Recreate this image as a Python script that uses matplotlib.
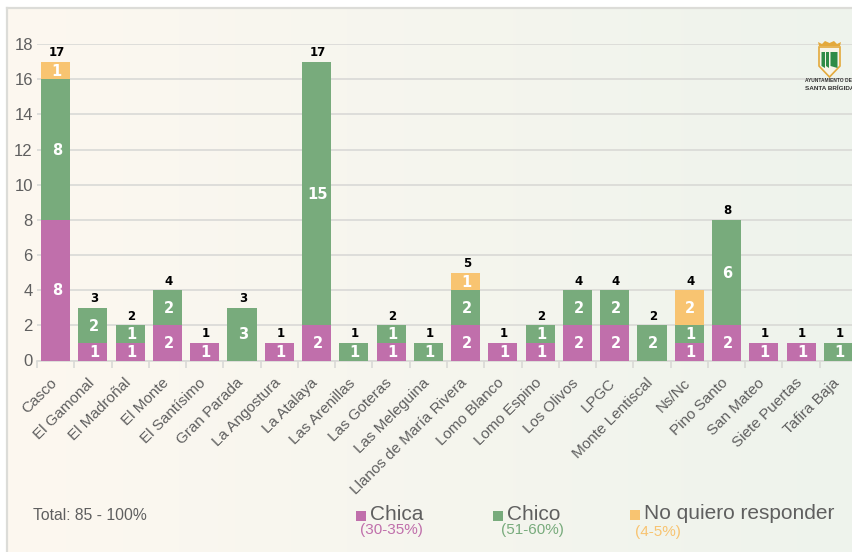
import numpy as np
import matplotlib
matplotlib.use('Agg')
import matplotlib.pyplot as plt
from matplotlib.patches import Polygon, Rectangle
from matplotlib.transforms import ScaledTranslation

plt.rcParams['font.family'] = ['Liberation Sans', 'DejaVu Sans']

# Data
barrios = ['Casco', 'El Gamonal', 'El Madroñal', 'El Monte', 'El Santísimo', 'Gran Parada',
           'La Angostura', 'La Atalaya', 'Las Arenillas', 'Las Goteras', 'Las Meleguina',
           'Llanos de María Rivera', 'Lomo Blanco', 'Lomo Espino', 'Los Olivos', 'LPGC',
           'Monte Lentiscal', 'Ns/Nc', 'Pino Santo', 'San Mateo', 'Siete Puertas', 'Tafira Baja']
chica = [8, 1, 1, 2, 1, 0, 1, 2, 0, 1, 0, 2, 1, 1, 2, 2, 0, 1, 2, 1, 1, 0]
chico = [8, 2, 1, 2, 0, 3, 0, 15, 1, 1, 1, 2, 0, 1, 2, 2, 2, 1, 6, 0, 0, 1]
no_resp = [1, 0, 0, 0, 0, 0, 0, 0, 0, 0, 0, 1, 0, 0, 0, 0, 0, 2, 0, 0, 0, 0]
yticks = [0, 2, 4, 6, 8, 10, 12, 14, 16, 18]

C_CHICA = '#c06fab'
C_CHICO = '#78ab7c'
C_NO = '#f8c471'
GREY = '#5f5f5f'
GRID = '#d9d9d6'

W, H = 853, 552
fig = plt.figure(figsize=(W / 100, H / 100), dpi=100, facecolor='white')

# Background panel with gradient
bg = fig.add_axes([7 / W, 0, 1 - 7 / W, 1 - 8 / H])
grad = np.linspace(0, 1, 256)[None, :, None]
left = np.array([253, 248, 240]) / 255
right = np.array([238, 243, 236]) / 255
bg.imshow(left + (right - left) * grad, aspect='auto', extent=[0, 1, 0, 1])
bg.set_xticks([])
bg.set_yticks([])
for s in ['right', 'bottom']:
    bg.spines[s].set_visible(False)
for s in ['left', 'top']:
    bg.spines[s].set_color('#dcdcd8')
    bg.spines[s].set_linewidth(1.6)

# Main chart
ax = fig.add_axes([37 / W, 1 - 360.5 / H, 820 / W, 316.5 / H])
ax.patch.set_alpha(0)
x = np.arange(len(barrios))
chica = np.array(chica)
chico = np.array(chico)
no_resp = np.array(no_resp)
total = chica + chico + no_resp
width = 0.78

ax.bar(x, chica, width, color=C_CHICA, zorder=3)
ax.bar(x, chico, width, bottom=chica, color=C_CHICO, zorder=3)
ax.bar(x, no_resp, width, bottom=chica + chico, color=C_NO, zorder=3)

for i in x:
    base = 0
    for v in (chica[i], chico[i], no_resp[i]):
        if v > 0:
            ax.text(i + 0.03, base + v / 2 - 0.04, str(v), color='white', fontsize=10.5,
                    fontweight='bold', family='DejaVu Sans', ha='center', va='center', zorder=4)
        base += v
    ax.text(i + 0.03, total[i] + 0.14, str(total[i]), color='black', fontsize=8.5,
            fontweight='bold', family='DejaVu Sans', ha='center', va='bottom', zorder=4)

ax.set_xlim(-0.5, 21.5)
ax.set_ylim(0, 18)
ax.set_yticks(yticks)
ax.set_xticks(x)
ax.set_xticklabels(barrios, rotation=45, ha='right', va='top', rotation_mode='anchor',
                   fontsize=11, color=GREY)
ax.set_xticks(x - 0.5, minor=True)
ax.tick_params(axis='x', which='major', length=0, pad=11)
ax.tick_params(axis='x', which='minor', length=5, color=GRID, width=1.2)
ax.tick_params(axis='y', length=0, pad=3, labelsize=12, labelcolor=GREY)
# labels sit a bit left of the bar centre (has to come after tick_params)
shift = ScaledTranslation(-6 / 100, 0, fig.dpi_scale_trans)
for lab in ax.get_xticklabels():
    lab.set_transform(lab.get_transform() + shift)
ax.grid(axis='y', color=GRID, linewidth=1.2, zorder=0)
ax.set_axisbelow(True)
for s in ['top', 'right', 'left']:
    ax.spines[s].set_visible(False)
ax.spines['bottom'].set_color(GRID)
ax.spines['bottom'].set_linewidth(1.2)


# Footer texts, coordinates in pixels
def ptext(px, py, s, **kw):
    fig.text(px / W, 1 - py / H, s, va='center', **kw)


def square(px, py, size, color):
    fig.add_artist(Rectangle((px / W, 1 - (py + size) / H), size / W, size / H,
                             transform=fig.transFigure, color=color, lw=0))


ptext(33, 516, 'Total: 85 - 100%', fontsize=11.3, color=GREY)

square(356, 511, 10, C_CHICA)
ptext(370.5, 514, 'Chica', fontsize=15, color=GREY)
ptext(360, 530, '(30-35%)', fontsize=11, color=C_CHICA)

square(493, 511, 10, C_CHICO)
ptext(507.5, 514, 'Chico', fontsize=15, color=GREY)
ptext(501, 530, '(51-60%)', fontsize=11, color=C_CHICO)

square(630, 510, 10, C_NO)
ptext(644.5, 513.5, 'No quiero responder', fontsize=15, color=GREY)
ptext(635, 532, '(4-5%)', fontsize=11, color=C_NO)


# Logo
def poly(points, **kw):
    pts = [(a / W, 1 - b / H) for a, b in points]
    fig.add_artist(Polygon(pts, closed=True, transform=fig.transFigure, **kw))


poly([(819, 47), (840, 47), (840, 66), (829.5, 77), (819, 66)], facecolor='#f7f4e8',
     edgecolor='#e3a93c', linewidth=1.2)
for a, b in [(821.5, 825), (826, 829), (830.5, 837.5)]:
    poly([(a, 52), (b, 52), (b, 68), (a, 66)], facecolor='#2e8b47', edgecolor='none')
poly([(819, 46), (818, 42), (822, 44), (825, 41), (829.5, 43), (834, 41), (837, 44), (841, 42), (840, 46)],
     facecolor='#e3a93c', edgecolor='none')
ptext(805, 81, 'AYUNTAMIENTO DE', fontsize=3.5, color='#333333', fontweight='bold')
ptext(805, 88.5, 'SANTA BRÍGIDA', fontsize=4.6, color='#333333', fontweight='bold')

fig.savefig('out.png', dpi=100)
